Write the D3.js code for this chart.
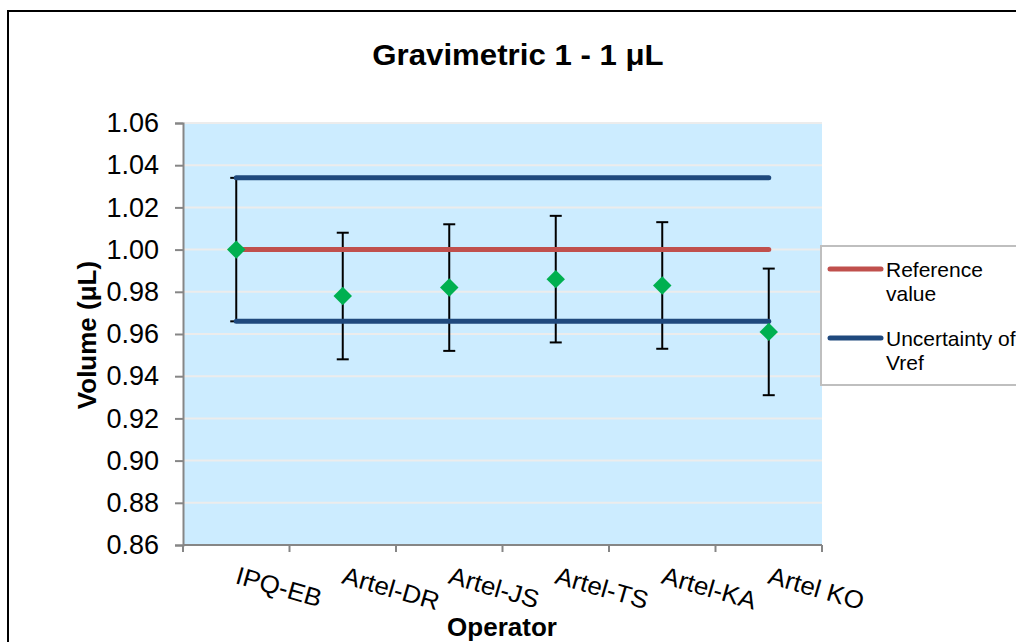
<!DOCTYPE html>
<html>
<head>
<meta charset="utf-8">
<script src="https://cdn.jsdelivr.net/npm/d3@7"></script>
<style>
  html, body { margin: 0; padding: 0; background: #fff; }
  svg { display: block; font-family: Arial, "Liberation Sans", sans-serif; }
</style>
</head>
<body>
<svg id="chart" width="1016" height="642"></svg>
<script>
// ---- data ----
const operators = ["IPQ-EB", "Artel-DR", "Artel-JS", "Artel-TS", "Artel-KA", "Artel KO"];
const volumes = [1.000, 0.978, 0.982, 0.986, 0.983, 0.961];
const errors = [0.034, 0.030, 0.030, 0.030, 0.030, 0.030];
const referenceValue = [1.000, 1.000, 1.000, 1.000, 1.000, 1.000];
const uncertaintyUpper = [1.034, 1.034, 1.034, 1.034, 1.034, 1.034];
const uncertaintyLower = [0.966, 0.966, 0.966, 0.966, 0.966, 0.966];
const yTicks = [0.86, 0.88, 0.90, 0.92, 0.94, 0.96, 0.98, 1.00, 1.02, 1.04, 1.06];
const legendItems = [
  { lines: ["Reference", "value"], color: "#C0504D" },
  { lines: ["Uncertainty of", "Vref"], color: "#1F497D" }
];

// ---- layout ----
const svg = d3.select("#chart");
const plot = { left: 183, right: 822, top: 123, bottom: 545 };

const x = d3.scaleBand().domain(operators).range([plot.left, plot.right]).padding(0);
const y = d3.scaleLinear().domain([0.86, 1.06]).range([plot.bottom, plot.top]);
const cx = d => x(d) + x.bandwidth() / 2;

function stretch(sel, k) {
  sel.each(function () {
    const w = this.getComputedTextLength();
    d3.select(this).attr("textLength", w * k).attr("lengthAdjust", "spacingAndGlyphs");
  });
}

// outer border (extends past right/bottom)
svg.append("path")
  .attr("d", "M8,660 L8,11 L1030,11")
  .attr("fill", "none").attr("stroke", "#000").attr("stroke-width", 2);

// plot background
svg.append("rect")
  .attr("x", plot.left).attr("y", plot.top)
  .attr("width", plot.right - plot.left).attr("height", plot.bottom - plot.top)
  .attr("fill", "#CCECFF");

// gridlines
svg.append("g").selectAll("line").data(yTicks.slice(1)).join("line")
  .attr("x1", plot.left).attr("x2", plot.right)
  .attr("y1", d => y(d)).attr("y2", d => y(d))
  .attr("stroke", "#ECECEC").attr("stroke-width", 2);

// axes
const yAxis = d3.axisLeft(y).tickValues(yTicks).tickFormat(d3.format(".2f")).tickSize(8).tickPadding(16);
const gy = svg.append("g").attr("transform", `translate(${plot.left},0)`).call(yAxis);
gy.select(".domain").attr("stroke", "#868686").attr("stroke-width", 2);
gy.selectAll(".tick line").attr("stroke", "#868686").attr("stroke-width", 2);
gy.selectAll(".tick text").attr("font-size", 27).attr("fill", "#000")
  .attr("font-family", "Arial, 'Liberation Sans', sans-serif");

const xTickPos = d3.range(operators.length + 1).map(i => plot.left + i * x.bandwidth());
const gx = svg.append("g");
gx.append("line").attr("x1", plot.left).attr("x2", plot.right)
  .attr("y1", plot.bottom).attr("y2", plot.bottom)
  .attr("stroke", "#868686").attr("stroke-width", 2);
gx.selectAll("line.tk").data(xTickPos).join("line").attr("class", "tk")
  .attr("x1", d => d).attr("x2", d => d)
  .attr("y1", plot.bottom).attr("y2", plot.bottom + 7)
  .attr("stroke", "#868686").attr("stroke-width", 2);

const xl = gx.selectAll("text").data(operators).join("text")
  .attr("transform", d => `translate(${cx(d) - 2},583) rotate(16)`)
  .attr("font-size", 25).attr("fill", "#000")
  .text(d => d);
stretch(xl, 1.04);

// error bars
const eb = svg.append("g");
operators.forEach((op, i) => {
  const xc = cx(op);
  const lo = y(volumes[i] - errors[i]), hi = y(volumes[i] + errors[i]);
  eb.append("line").attr("x1", xc).attr("x2", xc).attr("y1", lo).attr("y2", hi)
    .attr("stroke", "#000").attr("stroke-width", 2);
  [lo, hi].forEach(yy => eb.append("line").attr("x1", xc - 6).attr("x2", xc + 6)
    .attr("y1", yy).attr("y2", yy).attr("stroke", "#000").attr("stroke-width", 2));
});

// reference & uncertainty lines
const lineGen = vals => d3.line().x((d, i) => cx(operators[i])).y(d => y(d))(vals);
[[uncertaintyUpper, "#1F497D"], [uncertaintyLower, "#1F497D"], [referenceValue, "#C0504D"]]
  .forEach(([vals, col]) => {
    svg.append("path").attr("d", lineGen(vals)).attr("fill", "none")
      .attr("stroke", col).attr("stroke-width", 5).attr("stroke-linecap", "round");
  });

// diamonds
svg.append("g").selectAll("path").data(volumes).join("path")
  .attr("d", d3.symbol().type(d3.symbolSquare).size(170))
  .attr("transform", (d, i) => `translate(${cx(operators[i])},${y(d)}) rotate(45)`)
  .attr("fill", "#00B050");

// title
const title = svg.append("text").attr("x", 518).attr("y", 65).attr("text-anchor", "middle")
  .attr("font-size", 30).attr("font-weight", "bold").text("Gravimetric 1 - 1 \u03bcL");
stretch(title, 1.04);

// axis titles
svg.append("text").attr("transform", "translate(96,335) rotate(-90)").attr("text-anchor", "middle")
  .attr("font-size", 26).attr("font-weight", "bold").text("Volume (\u03bcL)");
svg.append("text").attr("x", 502).attr("y", 636).attr("text-anchor", "middle")
  .attr("font-size", 26).attr("font-weight", "bold").text("Operator");

// legend
const lg = svg.append("g");
lg.append("rect").attr("x", 821).attr("y", 246).attr("width", 220).attr("height", 139)
  .attr("fill", "#fff").attr("stroke", "#BFBFBF").attr("stroke-width", 2);
legendItems.forEach((it, i) => {
  const ly = 269 + i * 69;
  lg.append("line").attr("x1", 830).attr("x2", 881).attr("y1", ly).attr("y2", ly)
    .attr("stroke", it.color).attr("stroke-width", 5).attr("stroke-linecap", "round");
  it.lines.forEach((t, j) => {
    lg.append("text").attr("x", 886).attr("y", ly + 8 + j * 24)
      .attr("font-size", 21).attr("fill", "#000").text(t);
  });
});
</script>
</body>
</html>
